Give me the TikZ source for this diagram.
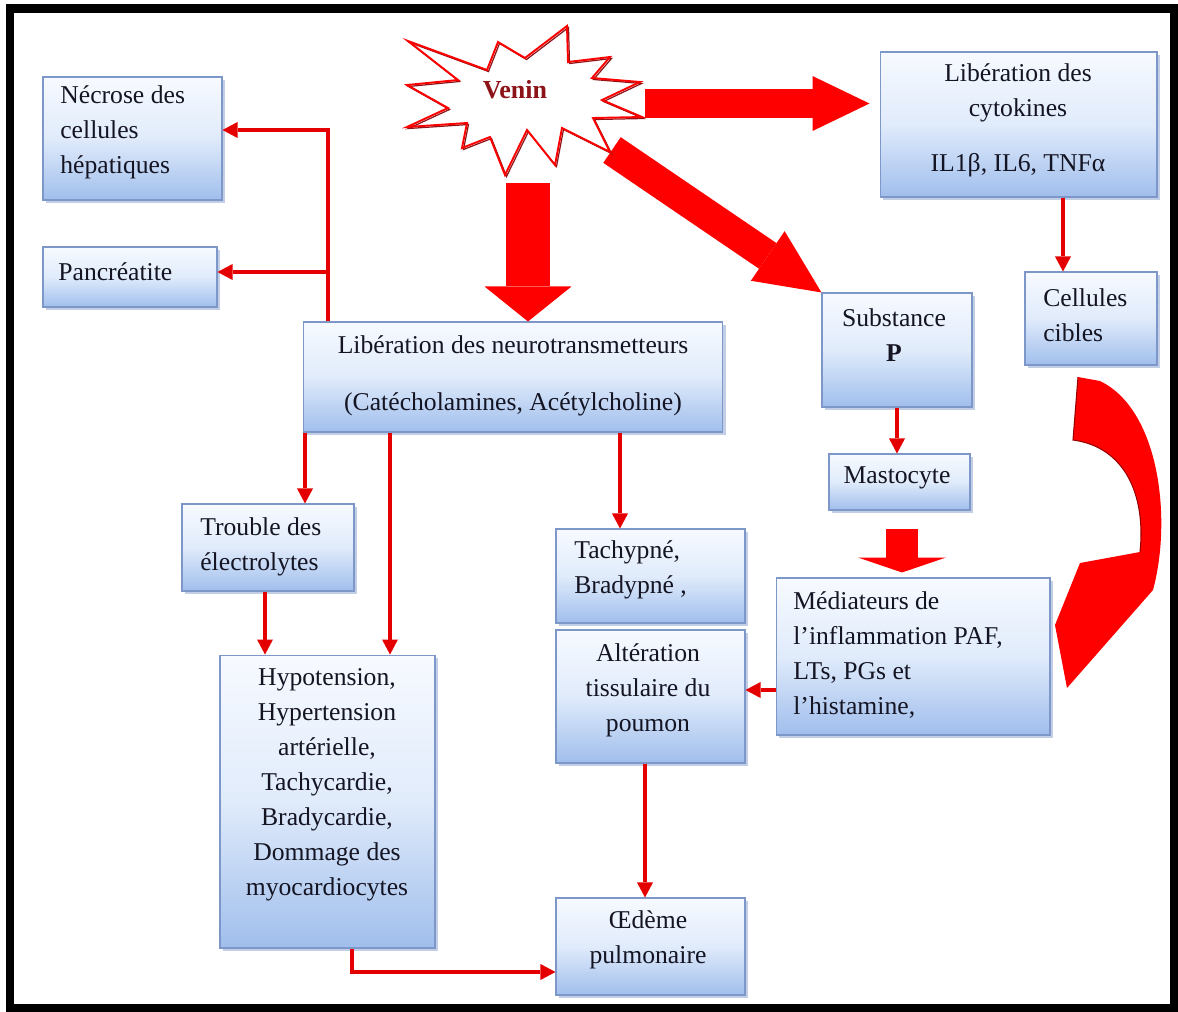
\documentclass[tikz,border=0pt]{standalone}
\usepackage{fontspec}
\setmainfont{Liberation Serif}
\usetikzlibrary{arrows.meta,shadows,calc}

\definecolor{boxtop}{RGB}{247,250,255}
\definecolor{boxmid}{RGB}{224,235,251}
\definecolor{boxbot}{RGB}{160,190,236}
\definecolor{boxline}{RGB}{125,152,200}
\definecolor{arrowred}{RGB}{228,0,0}
\definecolor{blockred}{RGB}{255,0,0}
\definecolor{veninred}{RGB}{140,20,25}
\definecolor{txt}{RGB}{20,20,35}

\begin{document}
\begin{tikzpicture}[x=0.02cm,y=-0.02cm,
  box/.style={draw=boxline, line width=0.6pt, top color=boxtop, bottom color=boxbot, middle color=boxmid,
    drop shadow={shadow xshift=1.6pt, shadow yshift=-1.6pt, fill=boxline!80, opacity=0.6}, inner sep=0pt},
  lbl/.style={text=txt, font=\fontsize{14.6}{19.9}\selectfont, inner sep=0pt},
  thinarr/.style={draw=arrowred, line width=0.08cm, -{Triangle[width=0.32cm,length=0.3cm,line width=0pt]}},
  blockarr/.style n args={3}{draw=blockred, line width=#1, -{Triangle[width=#2,length=#3,line width=0pt]}},
]
\useasboundingbox (0,0) rectangle (1178,1012);

% outer frame
\draw[line width=0.18cm] (10,8.5) rectangle (1174,1008);

% boxes
\node[box, minimum width=3.58cm, minimum height=2.46cm] (necrose) at (132.5,138.5) {};
\node[box, minimum width=3.48cm, minimum height=1.20cm] (pancreas) at (130,277) {};
\node[box, minimum width=8.40cm, minimum height=2.20cm] (neuro) at (513,377) {};
\node[box, minimum width=5.54cm, minimum height=2.90cm] (cyto) at (1018.5,124.5) {};
\node[box, minimum width=2.64cm, minimum height=1.86cm] (cell) at (1091,318.5) {};
\node[box, minimum width=3.00cm, minimum height=2.28cm] (sub) at (897,350) {};
\node[box, minimum width=2.82cm, minimum height=1.12cm] (mast) at (899.5,482) {};
\node[box, minimum width=5.48cm, minimum height=3.14cm] (medi) at (913,656.5) {};
\node[box, minimum width=3.78cm, minimum height=1.88cm] (tachy) at (650.5,576) {};
\node[box, minimum width=3.78cm, minimum height=2.66cm] (alter) at (650.5,696.5) {};
\node[box, minimum width=3.78cm, minimum height=1.94cm] (oedeme) at (650.5,946.5) {};
\node[box, minimum width=3.44cm, minimum height=1.74cm] (trouble) at (268,547.5) {};
\node[box, minimum width=4.30cm, minimum height=5.86cm] (hypo) at (327.5,801.5) {};

% box texts
\node[lbl, anchor=west, align=left] (tnecrose) at (60,132) {Nécrose des\\cellules\\hépatiques};
\node[lbl, anchor=west, align=left] (tpancreas) at (58,272) {Pancréatite};
\node[lbl, align=center] (tneuro) at (513,375.5) {Libération des neurotransmetteurs\\[0.44cm](Catécholamines, Acétylcholine)};
\node[lbl, align=center] (tcyto) at (1018,120) {Libération des\\cytokines\\[0.4cm]IL1β, IL6, TNFα};
\node[lbl, anchor=west, align=left] (tcell) at (1043,315) {Cellules\\cibles};
\node[lbl, align=center] (tsub) at (894,335) {Substance\\\textbf{P}};
\node[lbl] (tmast) at (897,478) {Mastocyte};
\node[lbl, anchor=west, align=left] (tmedi) at (793,655) {Médiateurs de\\l’inflammation PAF,\\LTs, PGs et\\l’histamine,};
\node[lbl, anchor=west, align=left] (ttachy) at (574,570) {Tachypné,\\Bradypné ,};
\node[lbl, align=center] (talter) at (648,690) {Altération\\tissulaire du\\poumon};
\node[lbl, align=center] (toedeme) at (648,940) {Œdème\\pulmonaire};
\node[lbl, anchor=west, align=left] (ttrouble) at (200,547) {Trouble des\\électrolytes};
\node[lbl, align=center] (thypo) at (327,785) {Hypotension,\\Hypertension\\artérielle,\\Tachycardie,\\Bradycardie,\\Dommage des\\myocardiocytes};

% thin red connectors
\coordinate (nj1) at (328,130);
\coordinate (nj2) at (328,272);
\coordinate (xa) at (305,0);
\coordinate (xb) at (390,0);
\coordinate (xc) at (620,0);
\coordinate (xd) at (265,0);
\coordinate (xe) at (645,0);
\coordinate (xf) at (897,0);
\coordinate (xg) at (1063,0);
\coordinate (hb) at (352,972);
\coordinate (ya) at (0,690);

\draw[thinarr] (neuro.north -| nj1) |- (necrose.east |- nj1);
\draw[thinarr] (nj2) -- (pancreas.east |- nj2);
\draw[thinarr] (neuro.south -| xa) -- (trouble.north -| xa);
\draw[thinarr] (neuro.south -| xb) -- (hypo.north -| xb);
\draw[thinarr] (neuro.south -| xc) -- (tachy.north -| xc);
\draw[thinarr] (trouble.south -| xd) -- (hypo.north -| xd);
\draw[thinarr] (hypo.south -| hb) |- (oedeme.west |- hb);
\draw[thinarr] (alter.south -| xe) -- (oedeme.north -| xe);
\draw[thinarr] (medi.west |- ya) -- (alter.east |- ya);
\draw[thinarr] (sub.south -| xf) -- (mast.north -| xf);
\draw[thinarr] (cyto.south -| xg) -- (cell.north -| xg);

% block arrows out of the venom burst
\coordinate (vd) at (528,183);
\coordinate (vr) at (645,103.5);
\coordinate (vs) at (612,150);
\coordinate (vm) at (902,529);
\draw[blockarr={0.88cm}{1.74cm}{0.70cm}] (vd) -- (vd |- neuro.north);
\draw[blockarr={0.58cm}{1.10cm}{1.14cm}] (vr) -- ($(cyto.west |- vr)+(-10,0)$);
\draw[blockarr={0.62cm}{1.20cm}{1.30cm}] (vs) -- (sub.north west);
\draw[blockarr={0.64cm}{1.76cm}{0.30cm}] (vm) -- ($(vm |- medi.north)+(0,-5)$);

% curved arrow from the target cells to the mediators
\fill[blockred] (1078,377) -- (1100,381) .. controls (1160,410) and (1172,520) .. (1153,590)
  -- (1067,688) -- (1055,625) -- (1080,563) -- (1140,552)
  .. controls (1146,495) and (1125,447) .. (1073,440) -- cycle;
\draw[red!60!black, line width=0.6pt] (1078,377) -- (1073,440) .. controls (1125,447) and (1146,495) .. (1140,552);

% venom burst
\def\burst{(408,41) -- (487,70) -- (498,42) -- (525,58) -- (567,26) -- (568,62) -- (610,57) -- (592,78)
  -- (640,82) -- (602,100) -- (642,117) -- (593,118) -- (610,152) -- (562,128) -- (555,165) -- (527,130)
  -- (505,175) -- (490,137) -- (462,148) -- (467,123) -- (407,127) -- (448,108) -- (407,85) -- (458,80) -- cycle}
\fill[white] \burst;
\draw[veninred, line width=0.7pt, line join=miter, shift={(1.5,1.5)}] \burst;
\draw[red, line width=1.1pt, line join=miter] \burst;
\node[text=veninred, font=\fontsize{14.8}{17}\selectfont\bfseries, inner sep=0pt] (venin) at (515,90) {Venin};
\end{tikzpicture}
\end{document}
